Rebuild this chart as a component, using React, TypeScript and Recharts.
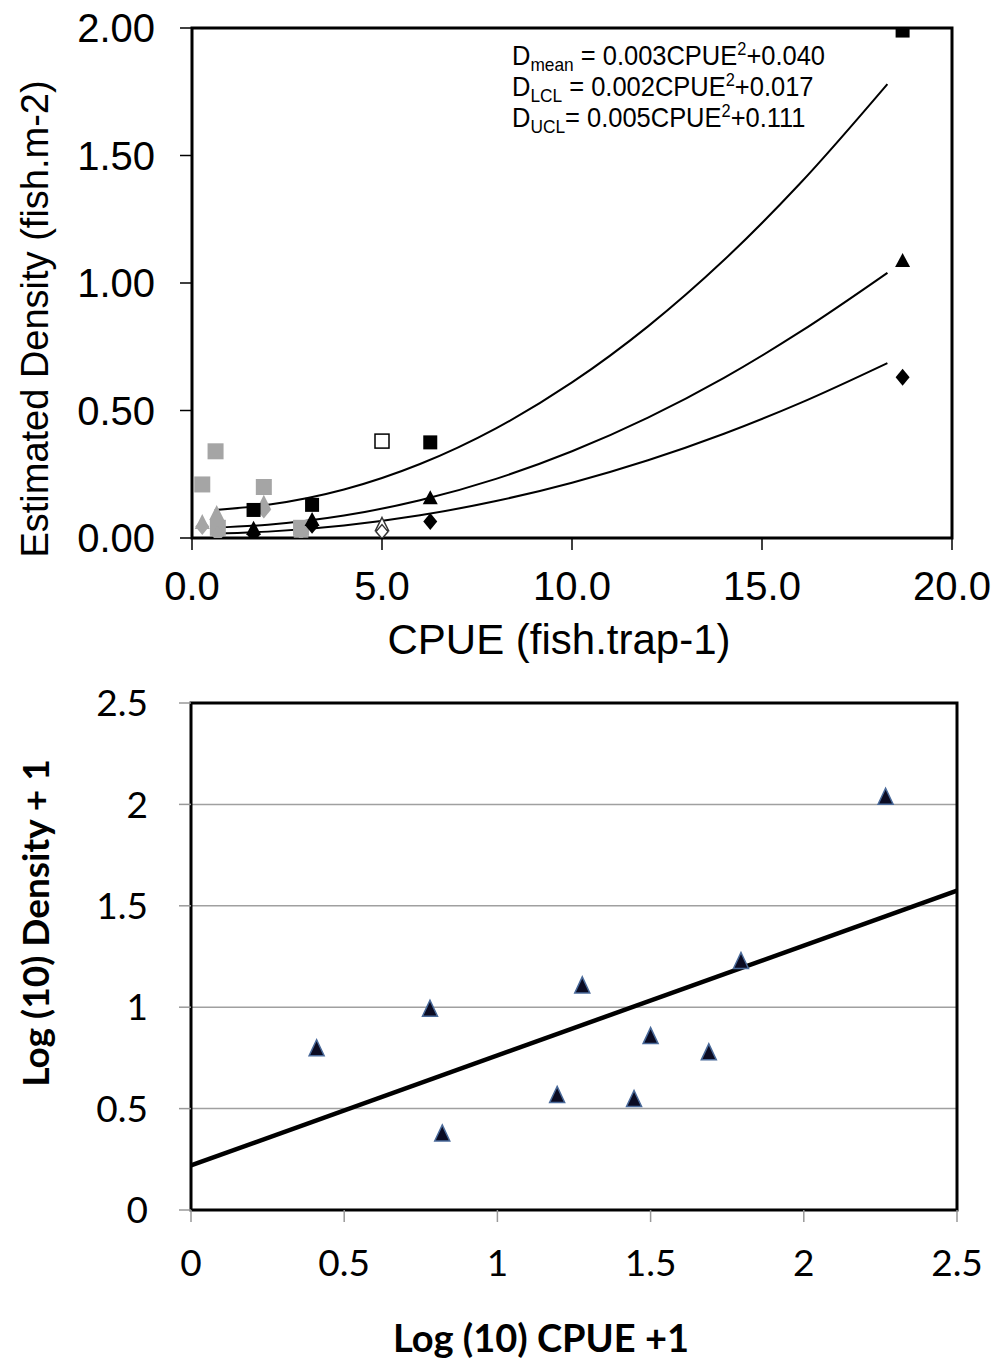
import React from "react";
import {
  ComposedChart,
  XAxis,
  YAxis,
  Line,
  Scatter,
  ReferenceArea,
  CartesianGrid,
} from "recharts";

type Pt = { x: number; y: number };

// top chart: density vs CPUE
const cpueTicks = [0, 5, 10, 15, 20];
const densityTicks = [0, 0.5, 1, 1.5, 2];

const blackSquares: Pt[] = [
  { x: 1.62, y: 0.11 },
  { x: 3.16, y: 0.13 },
  { x: 6.27, y: 0.375 },
  { x: 18.7, y: 1.99 },
];
const blackTriangles: Pt[] = [
  { x: 1.62, y: 0.04 },
  { x: 3.16, y: 0.075 },
  { x: 6.27, y: 0.16 },
  { x: 18.7, y: 1.09 },
];
const blackDiamonds: Pt[] = [
  { x: 1.62, y: 0.015 },
  { x: 3.16, y: 0.05 },
  { x: 6.27, y: 0.065 },
  { x: 18.7, y: 0.63 },
];
const greySquares: Pt[] = [
  { x: 0.27, y: 0.21 },
  { x: 0.62, y: 0.34 },
  { x: 1.89, y: 0.2 },
  { x: 0.68, y: 0.04 },
  { x: 2.87, y: 0.04 },
];
const greyTriangles: Pt[] = [
  { x: 0.27, y: 0.065 },
  { x: 0.65, y: 0.1 },
  { x: 1.89, y: 0.14 },
  { x: 2.87, y: 0.03 },
];
const greyDiamonds: Pt[] = [
  { x: 0.27, y: 0.045 },
  { x: 0.68, y: 0.015 },
  { x: 1.89, y: 0.11 },
  { x: 2.87, y: 0.025 },
];
const openSquares: Pt[] = [{ x: 5.0, y: 0.38 }];
const openTriangles: Pt[] = [{ x: 5.0, y: 0.055 }];
const openDiamonds: Pt[] = [{ x: 5.0, y: 0.025 }];

// fitted curves
const uclCurve: Pt[] = [
  { x: 0.6, y: 0.11 }, { x: 2, y: 0.13 }, { x: 4, y: 0.19 }, { x: 6, y: 0.29 },
  { x: 8, y: 0.43 }, { x: 10, y: 0.61 }, { x: 12, y: 0.83 }, { x: 14, y: 1.09 },
  { x: 16, y: 1.39 }, { x: 18.3, y: 1.78 },
];
const meanCurve: Pt[] = [
  { x: 0.6, y: 0.04 }, { x: 2, y: 0.052 }, { x: 4, y: 0.088 }, { x: 6, y: 0.148 },
  { x: 8, y: 0.232 }, { x: 10, y: 0.34 }, { x: 12, y: 0.472 }, { x: 14, y: 0.628 },
  { x: 16, y: 0.808 }, { x: 18.3, y: 1.04 },
];
const lclCurve: Pt[] = [
  { x: 0.6, y: 0.018 }, { x: 2, y: 0.025 }, { x: 4, y: 0.049 }, { x: 6, y: 0.089 },
  { x: 8, y: 0.145 }, { x: 10, y: 0.217 }, { x: 12, y: 0.305 }, { x: 14, y: 0.409 },
  { x: 16, y: 0.529 }, { x: 18.3, y: 0.686 },
];

// bottom chart: log-log
const logTicks = [0, 0.5, 1, 1.5, 2, 2.5];
const logPoints: Pt[] = [
  { x: 0.41, y: 0.8 },
  { x: 0.78, y: 0.995 },
  { x: 0.82, y: 0.38 },
  { x: 1.195, y: 0.57 },
  { x: 1.277, y: 1.11 },
  { x: 1.446, y: 0.55 },
  { x: 1.5, y: 0.86 },
  { x: 1.69, y: 0.78 },
  { x: 1.795, y: 1.23 },
  { x: 2.267, y: 2.04 },
];
const logFit: Pt[] = [
  { x: 0, y: 0.22 },
  { x: 2.5, y: 1.575 },
];

const GREY = "#a5a5a5";

const marker =
  (kind: "square" | "triangle" | "diamond", fill: string, stroke = "none", w = 14, h = 14) =>
  (p: any) => {
    const { cx, cy } = p;
    if (cx == null || cy == null) return <g />;
    if (kind === "square")
      return <rect x={cx - w / 2} y={cy - h / 2} width={w} height={h} fill={fill} stroke={stroke} strokeWidth={1.5} />;
    if (kind === "triangle")
      return (
        <polygon
          points={`${cx},${cy - h / 2} ${cx + w / 2},${cy + h / 2} ${cx - w / 2},${cy + h / 2}`}
          fill={fill}
          stroke={stroke}
          strokeWidth={1.5}
        />
      );
    return (
      <polygon
        points={`${cx},${cy - h / 2} ${cx + w / 2},${cy} ${cx},${cy + h / 2} ${cx - w / 2},${cy}`}
        fill={fill}
        stroke={stroke}
        strokeWidth={1.5}
      />
    );
  };

const arial = "'Liberation Sans', Arial, sans-serif";
const calib = "Lato, 'Open Sans', sans-serif";

const subStyle: React.CSSProperties = { fontSize: 19, lineHeight: 0, position: "relative", top: 6 };
const supStyle: React.CSSProperties = { fontSize: 18, lineHeight: 0, position: "relative", top: -10 };

export default function App() {
  return (
    <div style={{ position: "absolute", left: 0, top: 0, width: 997, height: 1361, background: "#fff" }}>
      <div style={{ position: "absolute", left: 0, top: 0 }}>
        <ComposedChart width={997} height={680} margin={{ top: 28, right: 45, bottom: 0, left: 0 }}>
          <XAxis
            type="number"
            dataKey="x"
            domain={[0, 20]}
            ticks={cpueTicks}
            tickFormatter={(v: number) => v.toFixed(1)}
            height={142}
            axisLine={false}
            tickLine={{ stroke: "#000", strokeWidth: 1.5 }}
            tickSize={12}
            tickMargin={22}
            tick={{ fontFamily: arial, fontSize: 40, fill: "#000" }}
            allowDataOverflow
          />
          <YAxis
            type="number"
            dataKey="y"
            domain={[0, 2]}
            ticks={densityTicks}
            tickFormatter={(v: number) => v.toFixed(2)}
            width={192}
            axisLine={false}
            tickLine={{ stroke: "#000", strokeWidth: 1.5 }}
            tickSize={12}
            tickMargin={25}
            tick={{ fontFamily: arial, fontSize: 40, fill: "#000" }}
            allowDataOverflow
          />
          <ReferenceArea x1={0} x2={20} y1={0} y2={2} fill="none" fillOpacity={0} stroke="#000" strokeWidth={3} ifOverflow="visible" />
          <Line data={uclCurve} dataKey="y" type="monotone" dot={false} stroke="#000" strokeWidth={2} isAnimationActive={false} />
          <Line data={meanCurve} dataKey="y" type="monotone" dot={false} stroke="#000" strokeWidth={2} isAnimationActive={false} />
          <Line data={lclCurve} dataKey="y" type="monotone" dot={false} stroke="#000" strokeWidth={2} isAnimationActive={false} />
          <Scatter data={greySquares} dataKey="y" shape={marker("square", GREY, "none", 16, 16)} isAnimationActive={false} />
          <Scatter data={greyTriangles} dataKey="y" shape={marker("triangle", GREY, "none", 15, 15)} isAnimationActive={false} />
          <Scatter data={greyDiamonds} dataKey="y" shape={marker("diamond", GREY, "none", 14, 17)} isAnimationActive={false} />
          <Scatter data={blackSquares} dataKey="y" shape={marker("square", "#000", "none", 14, 14)} isAnimationActive={false} />
          <Scatter data={blackTriangles} dataKey="y" shape={marker("triangle", "#000", "none", 15, 14)} isAnimationActive={false} />
          <Scatter data={blackDiamonds} dataKey="y" shape={marker("diamond", "#000", "none", 14, 17)} isAnimationActive={false} />
          <Scatter data={openSquares} dataKey="y" shape={marker("square", "#fff", "#000", 14, 14)} isAnimationActive={false} />
          <Scatter data={openTriangles} dataKey="y" shape={marker("triangle", "#fff", "#333", 13, 13)} isAnimationActive={false} />
          <Scatter data={openDiamonds} dataKey="y" shape={marker("diamond", "#fff", "#333", 12, 14)} isAnimationActive={false} />
        </ComposedChart>
      </div>

      {/* equations */}
      <div
        style={{
          position: "absolute", left: 512, top: 40, fontFamily: arial, fontSize: 28, lineHeight: "31px",
          color: "#000", whiteSpace: "nowrap", transform: "scaleX(0.91)", transformOrigin: "0 0",
        }}
      >
        <div style={{ height: 31 }}>
          D<span style={subStyle}>mean</span> = 0.003CPUE<span style={supStyle}>2</span>+0.040
        </div>
        <div style={{ height: 31 }}>
          D<span style={subStyle}>LCL</span> = 0.002CPUE<span style={supStyle}>2</span>+0.017
        </div>
        <div style={{ height: 31 }}>
          D<span style={subStyle}>UCL</span>= 0.005CPUE<span style={supStyle}>2</span>+0.111
        </div>
      </div>

      {/* top axis titles */}
      <div
        style={{
          position: "absolute", left: 35, top: 319, transform: "translate(-50%, -50%) rotate(-90deg)",
          fontFamily: arial, fontSize: 38, whiteSpace: "nowrap", color: "#000",
        }}
      >
        Estimated Density (fish.m-2)
      </div>
      <div
        style={{
          position: "absolute", left: 559, top: 640, transform: "translate(-50%, -50%)",
          fontFamily: arial, fontSize: 42, whiteSpace: "nowrap", color: "#000",
        }}
      >
        CPUE (fish.trap-1)
      </div>

      <div style={{ position: "absolute", left: 0, top: 680 }}>
        <ComposedChart width={997} height={681} margin={{ top: 23, right: 40, bottom: 0, left: 0 }}>
          <CartesianGrid vertical={false} stroke="#a0a0a0" strokeWidth={1.5} />
          <XAxis
            type="number"
            dataKey="x"
            domain={[0, 2.5]}
            ticks={logTicks}
            height={151}
            axisLine={false}
            tickLine={{ stroke: "#999", strokeWidth: 1.5 }}
            tickSize={12}
            tickMargin={28}
            tick={{ fontFamily: calib, fontSize: 37, fill: "#000" }}
          />
          <YAxis
            type="number"
            dataKey="y"
            domain={[0, 2.5]}
            ticks={logTicks}
            width={191}
            axisLine={false}
            tickLine={{ stroke: "#999", strokeWidth: 1.5 }}
            tickSize={12}
            tickMargin={31}
            tick={{ fontFamily: calib, fontSize: 37, fill: "#000" }}
          />
          <ReferenceArea x1={0} x2={2.5} y1={0} y2={2.5} fill="none" fillOpacity={0} stroke="#000" strokeWidth={3} ifOverflow="visible" />
          <Line data={logFit} dataKey="y" type="linear" dot={false} stroke="#000" strokeWidth={4.5} isAnimationActive={false} />
          <Scatter data={logPoints} dataKey="y" shape={marker("triangle", "#0b0b22", "#4a6a9a", 15, 16)} isAnimationActive={false} />
        </ComposedChart>
      </div>

      {/* bottom axis titles */}
      <div
        style={{
          position: "absolute", left: 34, top: 923, transform: "translate(-50%, -50%) rotate(-90deg)",
          fontFamily: calib, fontWeight: 700, fontSize: 37, whiteSpace: "nowrap", color: "#000",
        }}
      >
        Log (10) Density + 1
      </div>
      <div
        style={{
          position: "absolute", left: 541, top: 1337, transform: "translate(-50%, -50%)",
          fontFamily: calib, fontWeight: 700, fontSize: 38, whiteSpace: "nowrap", color: "#000",
        }}
      >
        Log (10) CPUE +1
      </div>
    </div>
  );
}
